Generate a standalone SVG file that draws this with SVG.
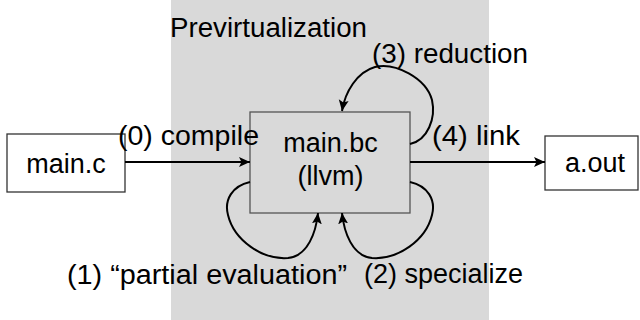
<svg xmlns="http://www.w3.org/2000/svg" width="640" height="320" viewBox="0 0 640 320">
<style>
text{font-family:"Liberation Sans","DejaVu Sans",sans-serif;font-size:27px;fill:#000}
.box{fill:#fff;stroke:#333;stroke-width:1.3}
.mid{text-anchor:middle}
.edge{fill:none;stroke:#000;stroke-width:2}
</style>
<defs>
<marker id="ah" markerUnits="userSpaceOnUse" markerWidth="14" markerHeight="12" refX="11" refY="5" orient="auto">
<path d="M0,0 L11,5 L0,10 L2.5,5 Z" fill="#000"/>
</marker>
</defs>
<rect id="region" x="171" y="0" width="318" height="320" fill="#d9d9d9"/>
<text x="170" y="37" textLength="197" lengthAdjust="spacingAndGlyphs">Previrtualization</text>
<g id="main_c">
<rect class="box" x="7" y="134" width="118" height="58"/>
<text class="mid" x="66" y="173">main.c</text>
</g>
<g id="main_bc">
<rect class="box" x="250" y="112" width="160" height="101" style="fill:#d9d9d9;stroke:#555"/>
<text class="mid" x="330.5" y="152">main.bc</text>
<text class="mid" x="330.5" y="185">(llvm)</text>
</g>
<g id="a_out">
<rect class="box" x="545" y="136" width="93" height="54"/>
<text class="mid" x="595" y="172">a.out</text>
</g>
<g id="edges">
<path class="edge" d="M125,162 L250,162" marker-end="url(#ah)"/>
<path class="edge" d="M410,162 L545,162" marker-end="url(#ah)"/>
<path class="edge" d="M410,144 C428,140 436,118 432,100 C426,78 395,62 375,67 C357,72 345,92 342,111" marker-end="url(#ah)"/>
<path class="edge" d="M250,182 C232,186 224,200 228,215 C234,240 262,260 288,258 C308,256 316,232 318,213" marker-end="url(#ah)"/>
<path class="edge" d="M410,182 C428,186 436,200 432,215 C426,240 398,260 372,258 C352,256 344,232 342,213" marker-end="url(#ah)"/>
<text x="118" y="145" textLength="141" lengthAdjust="spacingAndGlyphs">(0) compile</text>
<text x="432" y="145" textLength="88" lengthAdjust="spacingAndGlyphs">(4) link</text>
<text x="372" y="63" textLength="156" lengthAdjust="spacingAndGlyphs">(3) reduction</text>
<text x="67" y="284" textLength="280" lengthAdjust="spacingAndGlyphs">(1) “partial evaluation”</text>
<text x="364" y="283" textLength="159" lengthAdjust="spacingAndGlyphs">(2) specialize</text>
</g>
</svg>
